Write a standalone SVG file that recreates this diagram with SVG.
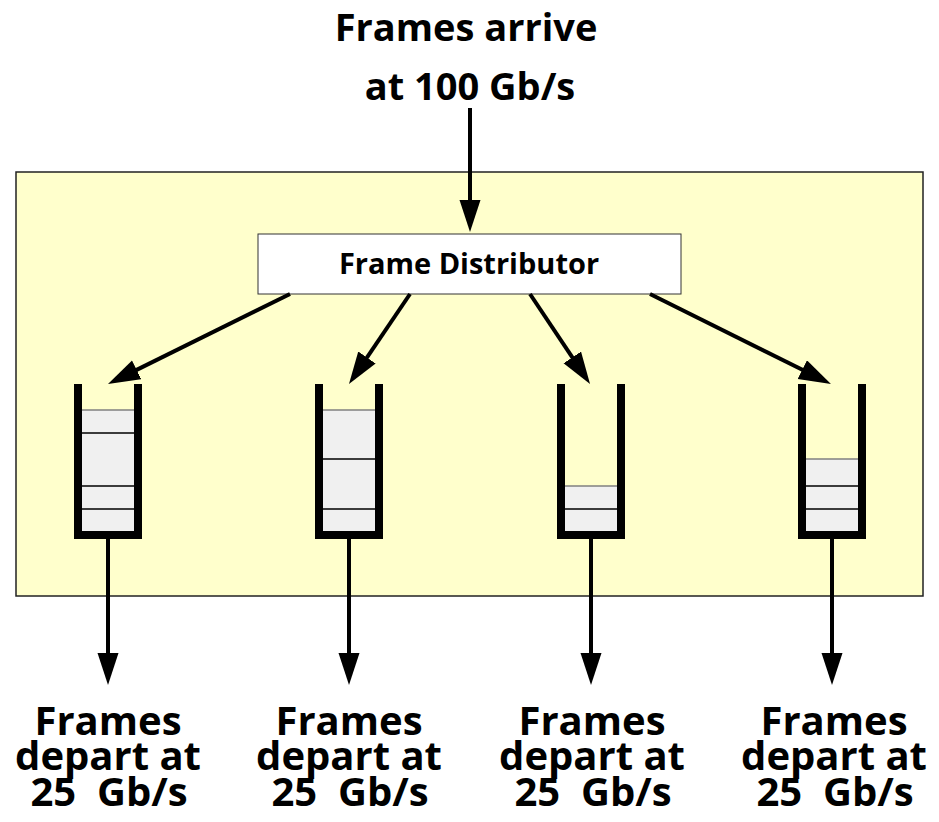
<svg xmlns="http://www.w3.org/2000/svg" width="939" height="822" viewBox="0 0 939 822">
  <style>
    .lbl { font-family: "Open Sans", "Liberation Sans", sans-serif; font-weight: bold; fill: #000; text-anchor: middle; }
    .big { font-size: 40px; }
    .top { font-size: 38px; }
    .mid { font-size: 29px; }
    .conn { stroke: #000; stroke-width: 4; fill: none; marker-end: url(#head); }
    .wall { stroke: #000; stroke-width: 8; fill: none; stroke-linejoin: miter; }
    .cell { fill: #F0F0F0; stroke: none; }
    .sep { stroke: #000; stroke-width: 1.5; }
    .cap { stroke: #808080; stroke-width: 1.5; }
  </style>
  <defs>
    <marker id="head" markerUnits="userSpaceOnUse" markerWidth="34" markerHeight="22" refX="4" refY="10.5" orient="auto" viewBox="0 0 34 22">
      <path d="M0,0 L32,10.5 L0,21 z" fill="#000"/>
    </marker>
  </defs>

  <rect width="939" height="822" fill="#fff"/>

  <!-- switch body -->
  <g id="switch">
    <rect x="16" y="172" width="907" height="424" fill="#FFFFCC" stroke="#222" stroke-width="1.5"/>
  </g>

  <!-- incoming label -->
  <g id="arrive">
    <text class="lbl top" x="466" y="41">Frames arrive</text>
    <text class="lbl top" x="470" y="100">at 100 Gb/s</text>
  </g>

  <!-- distributor -->
  <g id="distributor">
    <rect x="258" y="234" width="423" height="60" fill="#fff" stroke="#333" stroke-width="1"/>
    <text class="lbl mid" x="469" y="274">Frame Distributor</text>
  </g>

  <!-- output queues -->
  <g id="queue1">
    <rect class="cell" x="82" y="410" width="52" height="122"/>
    <line class="cap" x1="82" y1="410" x2="134" y2="410"/>
    <line class="sep" x1="82" y1="433" x2="134" y2="433"/>
    <line class="sep" x1="82" y1="486" x2="134" y2="486"/>
    <line class="sep" x1="82" y1="509" x2="134" y2="509"/>
    <path class="wall" d="M78,384 V535 H138 V384"/>
  </g>
  <g id="queue2">
    <rect class="cell" x="323" y="410" width="52" height="122"/>
    <line class="cap" x1="323" y1="410" x2="375" y2="410"/>
    <line class="sep" x1="323" y1="459" x2="375" y2="459"/>
    <line class="sep" x1="323" y1="509" x2="375" y2="509"/>
    <path class="wall" d="M319,384 V535 H379 V384"/>
  </g>
  <g id="queue3">
    <rect class="cell" x="565" y="486" width="52" height="46"/>
    <line class="cap" x1="565" y1="486" x2="617" y2="486"/>
    <line class="sep" x1="565" y1="509" x2="617" y2="509"/>
    <path class="wall" d="M561,384 V535 H621 V384"/>
  </g>
  <g id="queue4">
    <rect class="cell" x="806" y="459" width="52" height="73"/>
    <line class="cap" x1="806" y1="459" x2="858" y2="459"/>
    <line class="sep" x1="806" y1="486" x2="858" y2="486"/>
    <line class="sep" x1="806" y1="509" x2="858" y2="509"/>
    <path class="wall" d="M802,384 V535 H862 V384"/>
  </g>

  <!-- outgoing labels -->
  <g id="depart1">
    <text class="lbl big" x="108" y="735">Frames</text>
    <text class="lbl big" x="108" y="770">depart at</text>
    <text class="lbl big" x="109" y="806" xml:space="preserve">25  Gb/s</text>
  </g>
  <g id="depart2">
    <text class="lbl big" x="349" y="735">Frames</text>
    <text class="lbl big" x="349" y="770">depart at</text>
    <text class="lbl big" x="350" y="806" xml:space="preserve">25  Gb/s</text>
  </g>
  <g id="depart3">
    <text class="lbl big" x="592" y="735">Frames</text>
    <text class="lbl big" x="592" y="770">depart at</text>
    <text class="lbl big" x="593" y="806" xml:space="preserve">25  Gb/s</text>
  </g>
  <g id="depart4">
    <text class="lbl big" x="834" y="735">Frames</text>
    <text class="lbl big" x="834" y="770">depart at</text>
    <text class="lbl big" x="835" y="806" xml:space="preserve">25  Gb/s</text>
  </g>

  <!-- connectors -->
  <g id="connectors">
    <line class="conn" x1="470" y1="108" x2="470" y2="204"/>
    <line class="conn" x1="290" y1="294" x2="133.1" y2="371.6"/>
    <line class="conn" x1="410" y1="294" x2="364.7" y2="360.8"/>
    <line class="conn" x1="530" y1="294" x2="574.5" y2="360.7"/>
    <line class="conn" x1="650" y1="294" x2="805.9" y2="371.5"/>
    <line class="conn" x1="108" y1="539" x2="108" y2="657"/>
    <line class="conn" x1="349" y1="539" x2="349" y2="657"/>
    <line class="conn" x1="591" y1="539" x2="591" y2="657"/>
    <line class="conn" x1="832" y1="539" x2="832" y2="657"/>
  </g>
</svg>
